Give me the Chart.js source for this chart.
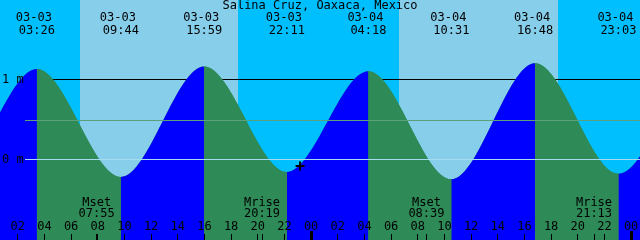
<!DOCTYPE html>
<html>
<head>
<meta charset="utf-8">
<script src="https://cdn.jsdelivr.net/npm/chart.js@4.4.0/dist/chart.umd.min.js"></script>
<style>
  html, body { margin: 0; padding: 0; background: #00bfff; }
  #tideChart { display: block; }
</style>
</head>
<body>
<canvas id="tideChart" width="640" height="240"></canvas>
<script>
const title = "Salina Cruz, Oaxaca, Mexico";

// all times in hours counted from 03-03 00:00
const startHour = 0.667;
const endHour = 48.667;

const tideHours = [3.433, 9.733, 15.983, 22.183, 28.3, 34.517, 40.8, 47.05];
const tideLevels = [1.13, -0.22, 1.16, -0.16, 1.10, -0.25, 1.20, -0.18];
const tideDates = ["03-03", "03-03", "03-03", "03-03", "03-04", "03-04", "03-04", "03-04"];
const tideClock = ["03:26", "09:44", "15:59", "22:11", "04:18", "10:31", "16:48", "23:03"];

// turning points just outside the window so the curve runs on past the edges
const edgeHours = [-8.9, -2.7, 53.2, 59.4];
const edgeLevels = [1.10, -0.15, 1.10, -0.20];

const sunHours = [6.667, 18.5, 30.6, 42.5]; // rise, set, rise, set

const moonHours = [7.917, 20.317, 32.65, 45.217];
const moonNames = ["Mset", "Mrise", "Mset", "Mrise"];
const moonClock = ["07:55", "20:19", "08:39", "21:13"];

const nowHour = 23.17;
const nowLevel = -0.085;

const mslLevel = 0.49;
const markLevels = [1, 0];
const markLabels = ["1 m", "0 m"];

const NIGHT = "#00bfff";
const DAY = "#87ceeb";
const FLOOD = "#0000ff";
const EBB = "#2e8b57";
const FONT = '12px "DejaVu Sans Mono", monospace';

var tidePoints = [];
tideHours.concat(edgeHours).forEach(function (h, i) {
    var lv = i < tideHours.length ? tideLevels[i] : edgeLevels[i - tideHours.length];
    tidePoints.push({ x: h, y: lv });
});
tidePoints.sort(function (a, b) { return a.x - b.x; });

const tideDecor = {
    id: "tideDecor",
    beforeDraw(chart) {
        const ctx = chart.ctx;
        const a = chart.chartArea;
        const x = chart.scales.x, y = chart.scales.y;
        ctx.save();
        ctx.fillStyle = NIGHT;
        ctx.fillRect(a.left, a.top, a.right - a.left, a.bottom - a.top);
        ctx.fillStyle = DAY;
        for (let i = 0; i < sunHours.length; i += 2) {
            const x0 = Math.round(x.getPixelForValue(sunHours[i]));
            const x1 = Math.round(x.getPixelForValue(sunHours[i + 1]));
            ctx.fillRect(x0, a.top, x1 - x0, a.bottom - a.top);
        }
        // 1 m line sits behind the water
        ctx.fillStyle = "#000";
        ctx.fillRect(25, Math.floor(y.getPixelForValue(1)), a.right - 25, 1);
        ctx.restore();
    },
    afterDatasetsDraw(chart) {
        const ctx = chart.ctx;
        const a = chart.chartArea;
        const x = chart.scales.x, y = chart.scales.y;
        ctx.save();

        ctx.fillStyle = "#5aa07a";
        ctx.fillRect(25, Math.floor(y.getPixelForValue(mslLevel)), a.right - 25, 1);
        ctx.fillStyle = "#a6dcef";
        ctx.fillRect(25, Math.floor(y.getPixelForValue(0)), a.right - 25, 1);

        ctx.font = FONT;
        ctx.fillStyle = "#000";
        ctx.textBaseline = "alphabetic";

        ctx.textAlign = "center";
        ctx.fillText(title, 320, 9);

        for (let i = 0; i < tideHours.length; i++) {
            const px = x.getPixelForValue(tideHours[i]);
            ctx.fillText(tideDates[i], px - 3, 21);
            ctx.fillText(tideClock[i], px, 34);
        }

        ctx.textAlign = "left";
        for (let i = 0; i < markLevels.length; i++) {
            ctx.fillText(markLabels[i], 2, Math.floor(y.getPixelForValue(markLevels[i])) + 4);
        }

        ctx.textAlign = "center";
        for (let i = 0; i < moonHours.length; i++) {
            const px = x.getPixelForValue(moonHours[i]);
            ctx.fillText(moonNames[i], px, 206);
            ctx.fillText(moonClock[i], px, 217);
            ctx.fillRect(Math.floor(px), 234, 1, 6);
        }

        for (let h = 2; h <= endHour; h += 2) {
            const px = x.getPixelForValue(h);
            ctx.fillText(String(h % 24).padStart(2, "0"), px, 230);
            if (h % 24 === 0) {
                ctx.fillRect(Math.floor(px) - 1, 231, 3, 9);
            } else {
                ctx.fillRect(Math.floor(px), 234, 1, 6);
            }
        }
        ctx.restore();
    }
};

const CHART = document.getElementById("tideChart");

let tideChart = new Chart(CHART, {
    type: "line",
    data: {
        datasets: [{
            label: "now",
            type: "scatter",
            data: [{ x: nowHour, y: nowLevel }],
            pointStyle: "cross",
            pointRadius: 4.5,
            borderColor: "#000",
            borderWidth: 2,
            order: 0
        }, {
            label: "tide",
            data: tidePoints,
            fill: "start",
            borderWidth: 0,
            pointRadius: 0,
            pointHitRadius: 0,
            cubicInterpolationMode: "monotone",
            capBezierPoints: false,
            backgroundColor: FLOOD,
            segment: {
                backgroundColor: c => c.p1.parsed.y > c.p0.parsed.y ? FLOOD : EBB
            },
            order: 1
        }, {
            // same water, one colour, underneath: hides the seams between segments
            label: "tide-under",
            data: tidePoints,
            fill: "start",
            borderWidth: 0,
            pointRadius: 0,
            pointHitRadius: 0,
            cubicInterpolationMode: "monotone",
            capBezierPoints: false,
            backgroundColor: EBB,
            order: 2
        }]
    },
    options: {
        responsive: false,
        animation: false,
        devicePixelRatio: 1,
        layout: { padding: 0, autoPadding: false },
        events: [],
        scales: {
            x: { type: "linear", min: startHour, max: endHour, display: false },
            y: { type: "linear", min: -1.009, max: 1.991, display: false }
        },
        plugins: {
            legend: { display: false },
            tooltip: { enabled: false }
        }
    },
    plugins: [tideDecor]
});
</script>
</body>
</html>
